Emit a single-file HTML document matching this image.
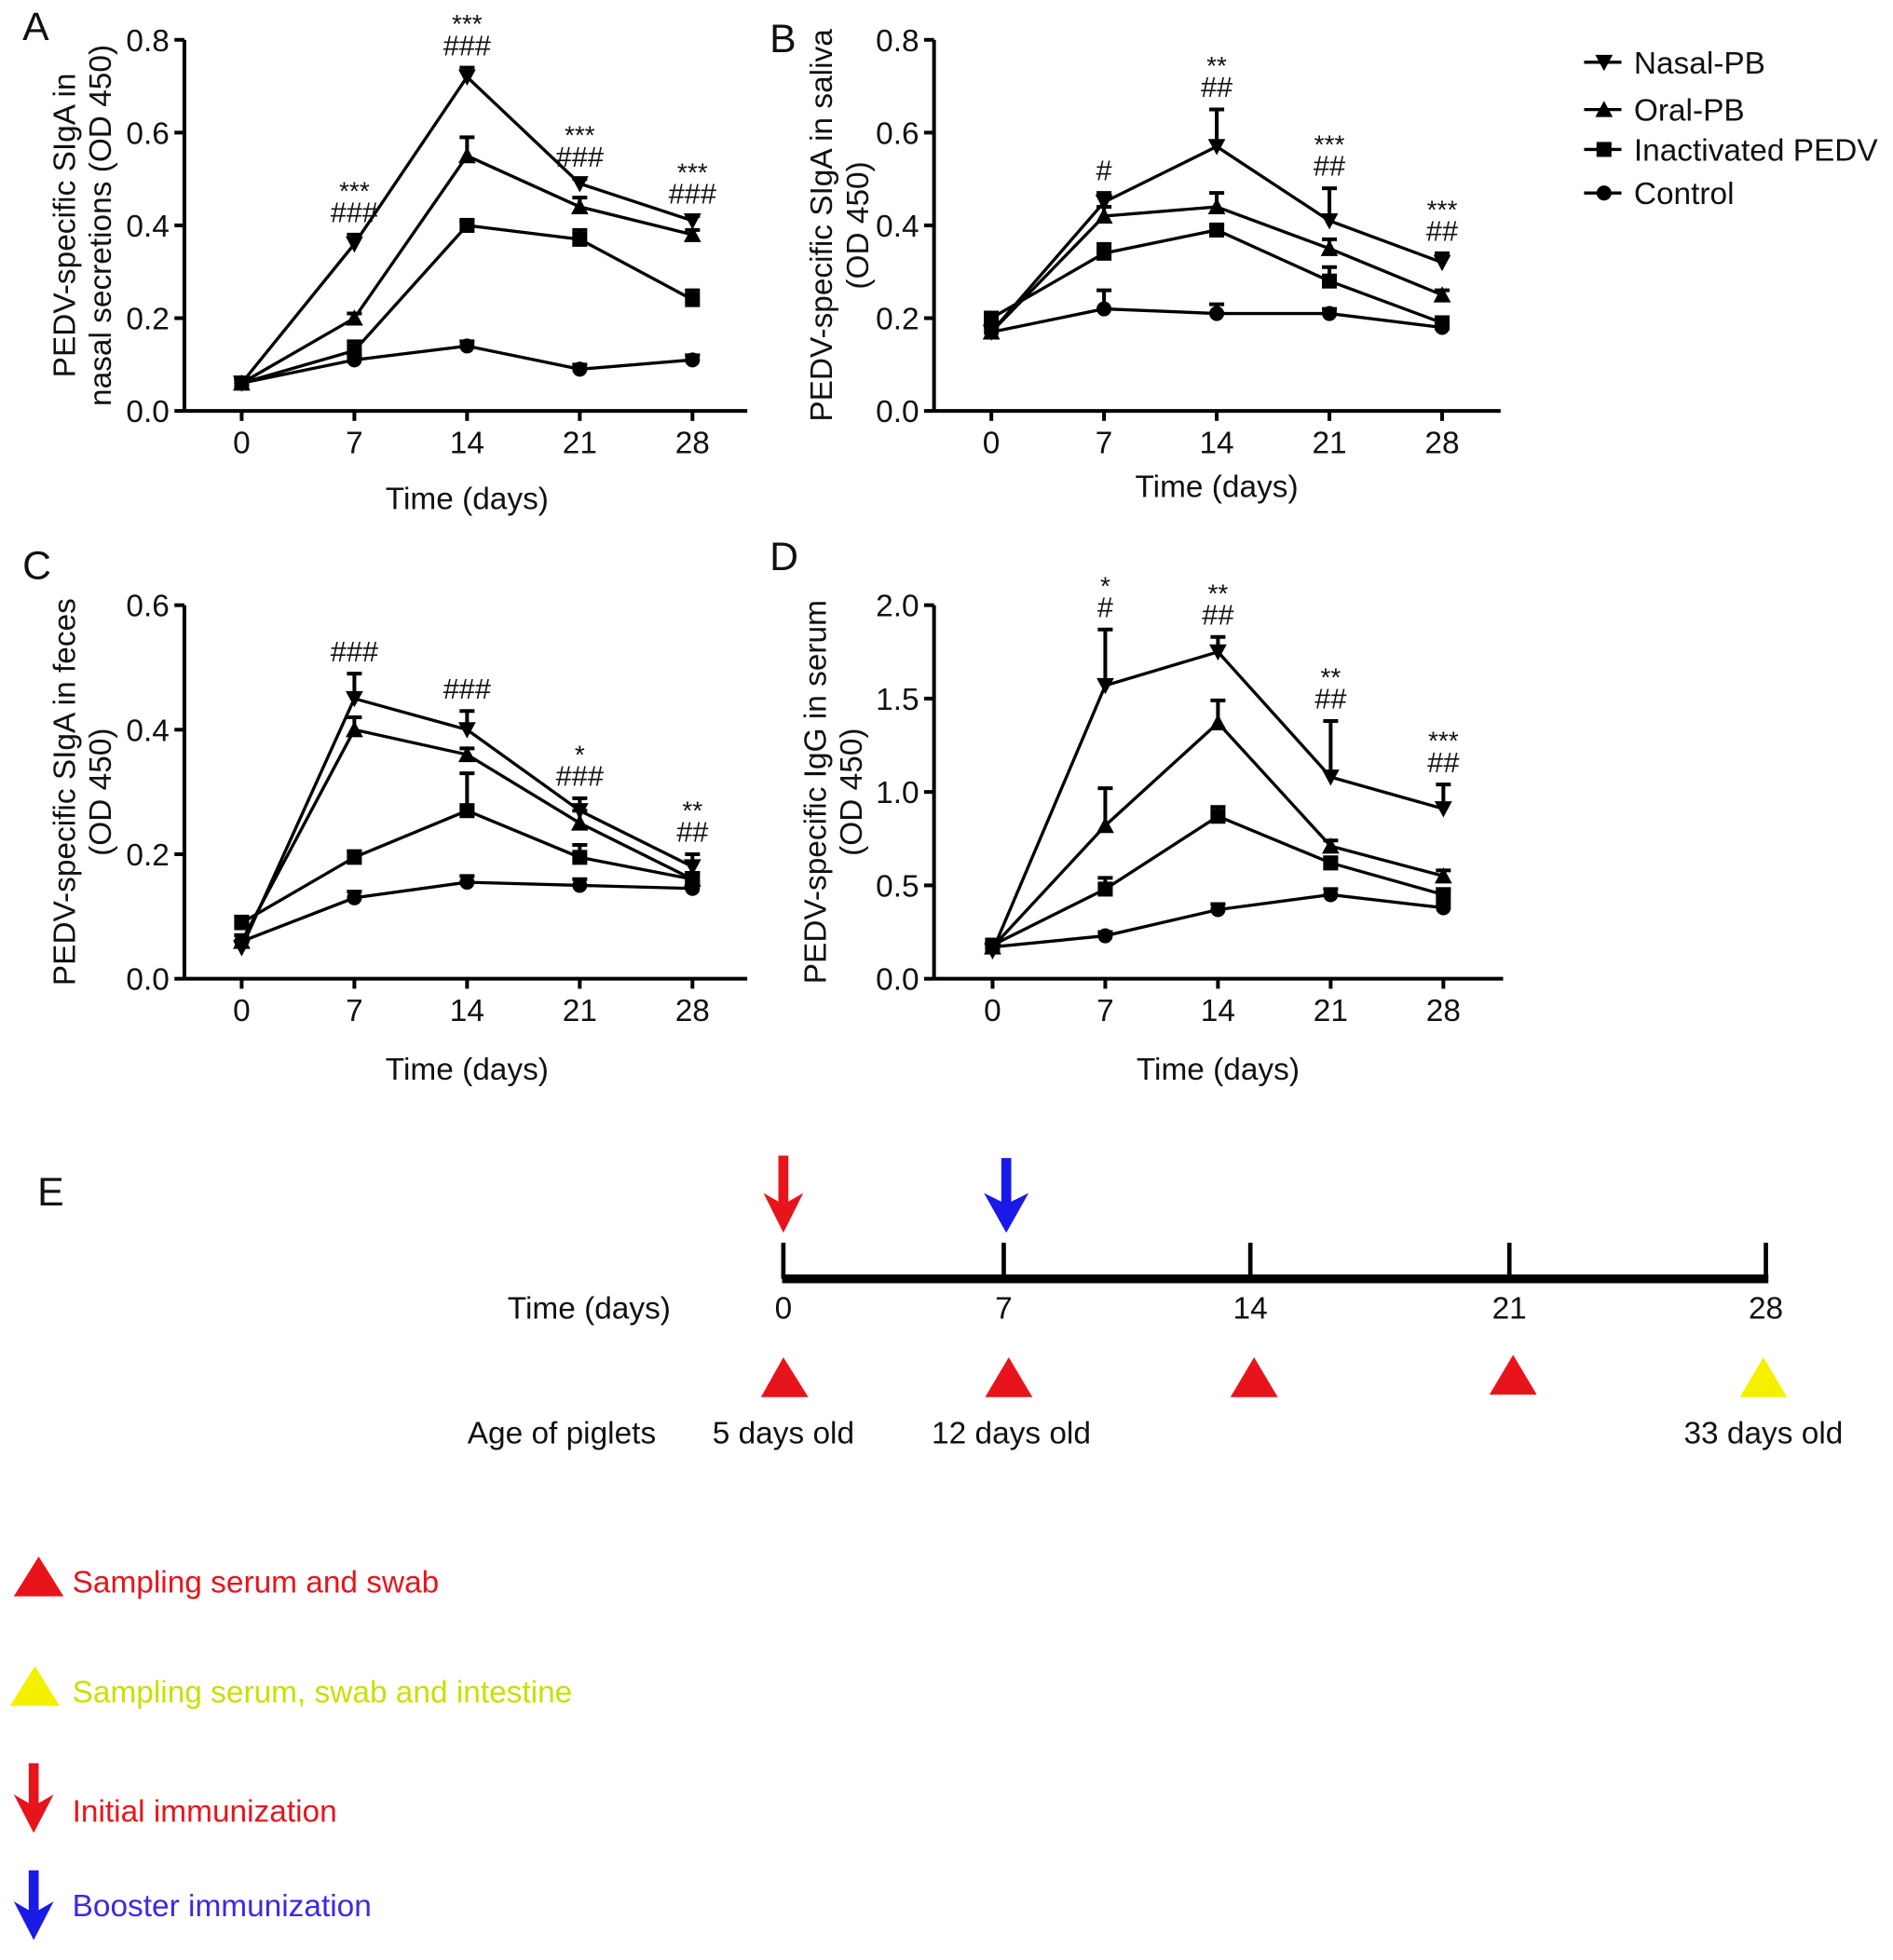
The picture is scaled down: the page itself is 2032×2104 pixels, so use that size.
<!DOCTYPE html>
<html><head><meta charset="utf-8"><style>
html,body{margin:0;padding:0;background:#fff}
svg{display:block}
text{font-family:"Liberation Sans",Arial,sans-serif;fill:#111}
</style></head><body>
<svg id="fig" width="2032" height="2104" viewBox="0 0 1520 1574" xmlns="http://www.w3.org/2000/svg">
<g id="panels"></g>
<g id="legend"></g>
<g>
<text x="30" y="968" font-size="32">E</text>
<line x1="628" y1="1027" x2="1420" y2="1027" stroke="#000" stroke-width="7"/>
<g stroke="#000" stroke-width="3.5">
<line x1="629" y1="998" x2="629" y2="1027"/><line x1="806" y1="998" x2="806" y2="1027"/>
<line x1="1004" y1="998" x2="1004" y2="1027"/><line x1="1212" y1="998" x2="1212" y2="1027"/><line x1="1418" y1="998" x2="1418" y2="1027"/>
</g>
<g font-size="25" text-anchor="middle">
<text x="629" y="1059">0</text><text x="806" y="1059">7</text><text x="1004" y="1059">14</text><text x="1212" y="1059">21</text><text x="1418" y="1059">28</text>
</g>
<text x="473" y="1059" font-size="25" text-anchor="middle">Time (days)</text>
<text x="451" y="1159" font-size="25" text-anchor="middle">Age of piglets</text>
<text x="629" y="1159" font-size="25" text-anchor="middle">5 days old</text>
<text x="812" y="1159" font-size="25" text-anchor="middle">12 days old</text>
<text x="1416" y="1159" font-size="25" text-anchor="middle">33 days old</text>
<path d="M625 928 L633 928 L633 965 L645 958 L629 990 L613 958 L625 965Z" fill="#e8141b"/>
<path d="M804 930 L812 930 L812 965 L826 958 L808 990 L790 958 L804 965Z" fill="#1a1ae8"/>
<g fill="#e8141b">
<polygon points="629,1090 649,1122 611,1122"/><polygon points="810,1090 829,1122 791,1122"/>
<polygon points="1007,1090 1026,1122 988,1122"/><polygon points="1215,1088 1234,1120 1196,1120"/>
</g>
<polygon points="1416,1090 1435,1122 1397,1122" fill="#f5f000"/>
</g>
<g>
<polygon points="31,1250 51,1282 11,1282" fill="#e8141b"/>
<text x="58" y="1279" font-size="25" style="fill:#e8141b">Sampling serum and swab</text>
<polygon points="28,1338 48,1370 8,1370" fill="#f5f000"/>
<text x="58" y="1367" font-size="25" style="fill:#c8e000">Sampling serum, swab and intestine</text>
<path d="M23 1416 L31 1416 L31 1448 L43 1441 L27 1472 L11 1441 L23 1448Z" fill="#e8141b"/>
<text x="58" y="1463" font-size="25" style="fill:#e8141b">Initial immunization</text>
<path d="M23 1502 L31 1502 L31 1534 L43 1527 L27 1558 L11 1527 L23 1534Z" fill="#1a1ae8"/>
<text x="58" y="1539" font-size="25" style="fill:#3a2ae8">Booster immunization</text>
</g>
</svg>
<script>
const days=[0,7,14,21,28];
const seriesNames=["Nasal-PB","Oral-PB","Inactivated PEDV","Control"];
const markers=["down","up","square","circle"];
// Panel A
const aNasal=[0.06,0.36,0.72,0.49,0.41], aNasalErr=[0.01,0.02,0.02,0.01,0.01];
const aOral=[0.06,0.20,0.55,0.44,0.38], aOralErr=[0.01,0.01,0.04,0.02,0.01];
const aInact=[0.06,0.13,0.40,0.37,0.24], aInactErr=[0.01,0.02,0.01,0.02,0.02];
const aCtrl=[0.06,0.11,0.14,0.09,0.11], aCtrlErr=[0.01,0.01,0.01,0.01,0.01];
// Panel B
const bNasal=[0.17,0.45,0.57,0.41,0.32], bNasalErr=[0.01,0.02,0.08,0.07,0.02];
const bOral=[0.17,0.42,0.44,0.35,0.25], bOralErr=[0.01,0.02,0.03,0.02,0.01];
const bInact=[0.20,0.34,0.39,0.28,0.19], bInactErr=[0.01,0.02,0.01,0.03,0.01];
const bCtrl=[0.17,0.22,0.21,0.21,0.18], bCtrlErr=[0.01,0.04,0.02,0.01,0.01];
// Panel C
const cNasal=[0.05,0.45,0.40,0.27,0.18], cNasalErr=[0.01,0.04,0.03,0.02,0.02];
const cOral=[0.06,0.40,0.36,0.25,0.16], cOralErr=[0.01,0.02,0.01,0.02,0.01];
const cInact=[0.09,0.195,0.27,0.195,0.16], cInactErr=[0.01,0.01,0.06,0.02,0.01];
const cCtrl=[0.06,0.13,0.155,0.15,0.145], cCtrlErr=[0.01,0.01,0.01,0.01,0.01];
// Panel D
const dNasal=[0.15,1.57,1.75,1.08,0.91], dNasalErr=[0.02,0.30,0.08,0.30,0.13];
const dOral=[0.17,0.82,1.37,0.71,0.55], dOralErr=[0.02,0.20,0.12,0.03,0.03];
const dInact=[0.18,0.48,0.87,0.62,0.45], dInactErr=[0.02,0.06,0.05,0.03,0.03];
const dCtrl=[0.17,0.23,0.37,0.45,0.38], dCtrlErr=[0.02,0.02,0.03,0.03,0.02];
const ticksA=["0.0","0.2","0.4","0.6","0.8"];
const ticksC=["0.0","0.2","0.4","0.6"];
const ticksD=["0.0","0.5","1.0","1.5","2.0"];
const sigA=[["",""],["***","###"],["***","###"],["***","###"],["***","###"]];
const sigB=[["",""],["","#"],["**","##"],["***","##"],["***","##"]];
const sigC=[["",""],["","###"],["","###"],["*","###"],["**","##"]];
const sigD=[["",""],["*","#"],["**","##"],["**","##"],["***","##"]];

const NS="http://www.w3.org/2000/svg";
function mk(tag,attrs,parent){const e=document.createElementNS(NS,tag);for(const k in attrs)e.setAttribute(k,attrs[k]);parent.appendChild(e);return e;}
const root=document.getElementById('panels');

function panel(cfg){
  const g=mk('g',{},root);
  
  
  const x=d=>cfg.x0+d*(cfg.x28-cfg.x0)/28;
  const y=v=>cfg.yb-(v/cfg.ymax)*(cfg.yb-cfg.yt);
  const ya=mk('line',{x1:cfg.ax,y1:cfg.yt,x2:cfg.ax,y2:cfg.yb,stroke:'#000','stroke-width':3},g);
  
  
  const xa=mk('line',{x1:cfg.ax,y1:cfg.yb,x2:cfg.axEnd,y2:cfg.yb,stroke:'#000','stroke-width':3},g);
  
  
  cfg.ticks.forEach((t,i)=>{
    const v=i*cfg.ymax/(cfg.ticks.length-1);const yy=y(v);
    mk('line',{x1:cfg.ax-8,y1:yy,x2:cfg.ax,y2:yy,stroke:'#000','stroke-width':3},g);
    const tx=mk('text',{x:cfg.ax-12,y:yy+9,'font-size':25,'text-anchor':'end'},g);tx.textContent=t;
    
    
  });
  days.forEach(d=>{
    mk('line',{x1:x(d),y1:cfg.yb,x2:x(d),y2:cfg.yb+8,stroke:'#000','stroke-width':3},g);
    const tx=mk('text',{x:x(d),y:cfg.yb+34,'font-size':25,'text-anchor':'middle'},g);tx.textContent=d;
    
    
  });
  const xt=mk('text',{x:(cfg.x0+cfg.x28)/2,y:cfg.xtY,'font-size':25,'text-anchor':'middle'},g);xt.textContent='Time (days)';
  
  
  const pl=mk('text',{x:cfg.lx,y:cfg.ly,'font-size':32},g);pl.textContent=cfg.id.toUpperCase();
  
  
  cfg.ytitle.forEach((s,i)=>{
    const tx=mk('text',{x:0,y:0,'font-size':25,'text-anchor':'middle',transform:`translate(${cfg.ytx+i*29},${(cfg.yt+cfg.yb)/2}) rotate(-90)`},g);tx.textContent=s;
    
    
  });
  cfg.series.forEach((s,si)=>{
    const vals=s[0],errs=s[1];
    const p=mk('polyline',{points:vals.map((v,i)=>x(days[i])+','+y(v)).join(' '),fill:'none',stroke:'#000','stroke-width':2.5},g);
    
    
    vals.forEach((v,i)=>{
      const cx=x(days[i]),cy=y(v),ey=y(v+errs[i]);
      mk('line',{x1:cx,y1:cy,x2:cx,y2:ey,stroke:'#000','stroke-width':3},g);
      mk('line',{x1:cx-6,y1:ey,x2:cx+6,y2:ey,stroke:'#000','stroke-width':3},g);
      let m;const r=7;
      if(markers[si]=='down')m=mk('polygon',{points:`${cx-r},${cy-r+1} ${cx+r},${cy-r+1} ${cx},${cy+r}`},g);
      else if(markers[si]=='up')m=mk('polygon',{points:`${cx-r},${cy+r-1} ${cx+r},${cy+r-1} ${cx},${cy-r}`},g);
      else if(markers[si]=='square')m=mk('rect',{x:cx-6,y:cy-6,width:12,height:12},g);
      else m=mk('circle',{cx:cx,cy:cy,r:6},g);
      
      
    });
  });
  cfg.sig.forEach((s,i)=>{
    const top=Math.max(...cfg.series.map(se=>se[0][i]+se[1][i]));
    const by=y(top)-10;
    if(s[1]){const t=mk('text',{x:x(days[i]),y:by,'font-size':23,'text-anchor':'middle'},g);t.textContent=s[1];
      
      }
    if(s[0]){const t=mk('text',{x:x(days[i]),y:by-18,'font-size':21,'text-anchor':'middle'},g);t.textContent=s[0];
      
      }
  });
}
panel({id:'a',ax:148,axEnd:600,x0:194,x28:556,yt:32,yb:330,ymax:0.8,ticks:ticksA,xtY:409,lx:18,ly:32,ytx:60,
  ytitle:["PEDV-specific SIgA in","nasal secretions (OD 450)"],series:[[aNasal,aNasalErr],[aOral,aOralErr],[aInact,aInactErr],[aCtrl,aCtrlErr]],sig:sigA});
panel({id:'b',ax:750,axEnd:1205,x0:796,x28:1158,yt:32,yb:330,ymax:0.8,ticks:ticksA,xtY:399,lx:618,ly:42,ytx:668,
  ytitle:["PEDV-specific SIgA in saliva","(OD 450)"],series:[[bNasal,bNasalErr],[bOral,bOralErr],[bInact,bInactErr],[bCtrl,bCtrlErr]],sig:sigB});
panel({id:'c',ax:148,axEnd:600,x0:194,x28:556,yt:486,yb:786,ymax:0.6,ticks:ticksC,xtY:867,lx:18,ly:465,ytx:60,
  ytitle:["PEDV-specific SIgA in feces","(OD 450)"],series:[[cNasal,cNasalErr],[cOral,cOralErr],[cInact,cInactErr],[cCtrl,cCtrlErr]],sig:sigC});
panel({id:'d',ax:750,axEnd:1207,x0:797,x28:1159,yt:486,yb:786,ymax:2.0,ticks:ticksD,xtY:867,lx:618,ly:458,ytx:663,
  ytitle:["PEDV-specific IgG in serum","(OD 450)"],series:[[dNasal,dNasalErr],[dOral,dOralErr],[dInact,dInactErr],[dCtrl,dCtrlErr]],sig:sigD});
const lg=document.getElementById('legend');
const legY=[50,88,120,155];
seriesNames.forEach((n,i)=>{
  const e=mk('g',{},lg);
  
  
  const yy=legY[i];
  mk('line',{x1:1272,y1:yy,x2:1302,y2:yy,stroke:'#000','stroke-width':2.5},e);
  const cx=1288,r=7;
  if(markers[i]=='down')mk('polygon',{points:`${cx-r},${yy-r+1} ${cx+r},${yy-r+1} ${cx},${yy+r}`},e);
  else if(markers[i]=='up')mk('polygon',{points:`${cx-r},${yy+r-1} ${cx+r},${yy+r-1} ${cx},${yy-r}`},e);
  else if(markers[i]=='square')mk('rect',{x:cx-6,y:yy-6,width:12,height:12},e);
  else mk('circle',{cx:cx,cy:yy,r:6},e);
  const t=mk('text',{x:1312,y:yy+9,'font-size':25},e);t.textContent=n;
});
</script>
</body></html>
